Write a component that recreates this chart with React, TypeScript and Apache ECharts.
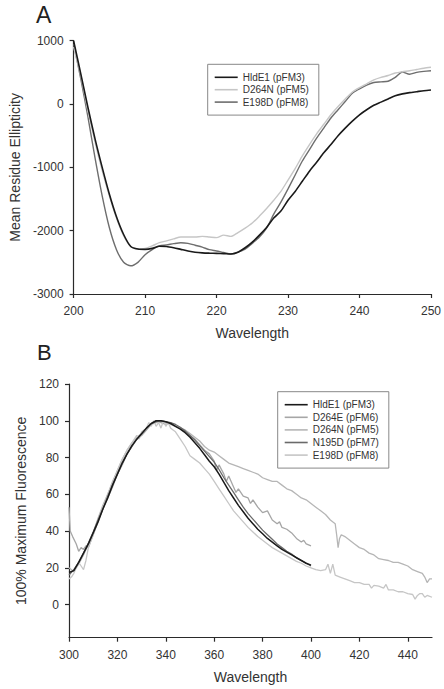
import React, { useEffect, useRef } from "react";
import * as echarts from "echarts";

// ---------- Panel A: circular dichroism ----------
const wavelengthA = [200, 201, 202, 203, 204, 205, 206, 207, 208, 209, 210, 211, 212, 213, 214, 215, 216, 217, 218, 219, 220, 221, 222, 223, 224, 225, 226, 227, 228, 229, 230, 231, 232, 233, 234, 235, 236, 237, 238, 239, 240, 241, 242, 243, 244, 245, 246, 247, 248, 249, 250];
const hldE1A = [1000, 480, -50, -550, -1000, -1420, -1780, -2060, -2250, -2290, -2295, -2280, -2245, -2250, -2270, -2295, -2320, -2340, -2350, -2355, -2358, -2362, -2368, -2340, -2270, -2180, -2070, -1950, -1800, -1690, -1520, -1380, -1220, -1060, -920, -770, -640, -500, -380, -270, -170, -90, -20, 30, 80, 130, 160, 180, 195, 210, 221];
const d264nA = [900, 450, -100, -600, -1050, -1450, -1800, -2080, -2250, -2290, -2280, -2240, -2190, -2160, -2130, -2100, -2100, -2100, -2090, -2100, -2110, -2070, -2090, -2030, -1960, -1880, -1770, -1650, -1520, -1380, -1200, -1020, -820, -640, -470, -320, -170, -40, 80, 190, 260, 320, 380, 420, 450, 490, 510, 525, 545, 565, 580];
const e198dA = [950, 400, -200, -850, -1450, -1950, -2300, -2500, -2555, -2500, -2380, -2300, -2240, -2225, -2205, -2190, -2200, -2230, -2260, -2300, -2320, -2345, -2368, -2340, -2290, -2200, -2100, -1960, -1740, -1550, -1340, -1120, -900, -720, -540, -380, -220, -90, 40, 170, 240, 300, 340, 350, 360, 420, 505, 470, 500, 515, 525];
const namesA = ["HldE1 (pFM3)", "D264N (pFM5)", "E198D (pFM8)"];
const colorsA = ["#1a1a1a", "#c6c6c6", "#6e6e6e"];
const yTicksA = [-3000, -2000, -1000, 0, 1000];
const xTicksA = [200, 210, 220, 230, 240, 250];

// ---------- Panel B: fluorescence (wavelength, % of maximum) ----------
const hldE1B = [[300, 17.5], [302, 18.5], [304, 23], [306, 28], [308, 33], [310, 39], [312, 45], [314, 52], [316, 58], [318, 65], [320, 71], [322, 77], [324, 82], [326, 86.5], [328, 90], [330, 93], [332, 96], [334, 98.5], [336, 100], [338, 100], [340, 99.5], [342, 98.5], [344, 97], [346, 95.5], [348, 93.5], [350, 91], [352, 88], [354, 85], [356, 81.5], [358, 78], [360, 75], [362, 71], [364, 66.5], [366, 62], [368, 58], [370, 54], [372, 50.5], [374, 47], [376, 44], [378, 41], [380, 38.5], [382, 36], [384, 34], [386, 32], [388, 30], [390, 28.5], [392, 27], [394, 25.5], [396, 24], [398, 22.5], [400, 21.5]];
const d264eB = [[300, 53], [300.5, 40], [301.5, 37], [303, 33], [304, 29], [305, 31], [306, 30], [307, 32], [308, 31], [310, 38], [312, 45], [314, 52], [316, 58], [318, 64], [320, 71], [322, 76], [324, 82], [326, 86], [328, 90], [330, 92], [332, 95], [334, 98], [336, 100], [338, 99], [340, 98], [342, 99], [344, 97], [346, 96], [348, 94], [350, 92], [352, 90], [354, 87], [356, 84], [358, 82], [360, 78], [361, 73], [362, 76], [364, 71], [365, 67], [366, 70], [368, 64], [369, 61], [370, 63], [372, 59], [374, 58], [375, 55], [376, 57], [378, 53], [380, 50], [382, 51], [384, 46], [386, 44], [387, 45], [388, 42], [390, 41], [392, 39], [394, 36], [396, 34], [397, 35], [398, 33], [400, 32]];
const d264nB = [[300, 20], [302, 18], [304, 22], [306, 27], [308, 33], [310, 39], [312, 47], [314, 54], [316, 60], [318, 67], [320, 73], [322, 79], [324, 84], [326, 88], [328, 91], [330, 93], [332, 96], [334, 98], [336, 99], [338, 100], [340, 99], [342, 98], [344, 97], [346, 96], [348, 95], [350, 93], [352, 91], [354, 89], [356, 86], [358, 84], [360, 83], [362, 81], [364, 79], [366, 77], [368, 76], [370, 75], [372, 74], [374, 73], [376, 72], [378, 71], [380, 69], [382, 68], [384, 67], [386, 67], [388, 65], [390, 63], [392, 62], [394, 60], [396, 58], [398, 57], [400, 55], [402, 53], [404, 51], [406, 49], [408, 46], [410, 44], [410.6, 38], [411.2, 31], [411.8, 36], [412.5, 38], [414, 37], [416, 35], [418, 33], [420, 31], [422, 30], [424, 28], [426, 27], [428, 25], [430, 24.5], [432, 24], [434, 23], [436, 23], [438, 22], [440, 21], [442, 19], [444, 18], [446, 17], [447, 15], [448, 12], [449, 14], [450, 14]];
const n195dB = [[300, 16], [302, 19], [304, 23], [306, 28], [308, 33.5], [310, 39.5], [312, 46], [314, 52], [316, 59], [318, 65], [320, 71], [322, 77], [324, 82], [326, 86], [328, 90], [330, 93], [332, 96], [334, 98.5], [336, 99.5], [338, 100], [340, 99.5], [342, 99], [344, 98], [346, 96.5], [348, 94.5], [350, 92], [352, 89.5], [354, 86.5], [356, 83.5], [358, 80.5], [360, 77.5], [362, 73.5], [364, 69], [366, 65], [368, 61], [370, 57], [372, 53], [374, 49.5], [376, 46.5], [378, 43.5], [380, 40.5], [382, 38], [384, 35.5], [386, 33], [388, 31], [390, 29], [392, 27.5], [394, 25.5], [396, 24], [398, 22.5], [400, 21]];
const e198dB = [[300, 14], [301, 15], [302, 17], [303, 20], [304, 23], [305, 21], [306, 19], [307, 24], [308, 31], [310, 38], [312, 46], [314, 53], [316, 60], [318, 66], [320, 73], [322, 79], [324, 84], [326, 88], [328, 92], [329, 90], [330, 94], [332, 96], [333, 99], [334, 97], [335, 100], [336, 97], [337, 99], [338, 96], [339, 100], [340, 97], [341, 99], [342, 96], [343, 95], [344, 94], [346, 90], [348, 86], [350, 81], [352, 79], [354, 77], [356, 74], [358, 71], [360, 67], [362, 63], [364, 59], [366, 55], [368, 51], [370, 48], [372, 45], [374, 42], [376, 39.5], [378, 37], [380, 35], [382, 33], [384, 31], [386, 29.5], [388, 28], [390, 26.5], [392, 25], [394, 23.5], [396, 22.5], [398, 21], [400, 20], [402, 19], [404, 18.5], [406, 19], [407, 22], [408, 17], [409, 22], [410, 16], [412, 15], [414, 14], [416, 13], [418, 12], [420, 12], [422, 11], [424, 11], [425, 9], [426, 10.5], [428, 10], [430, 9], [431, 11], [432, 8], [434, 8], [436, 7], [438, 7], [440, 6], [442, 5.5], [443, 3], [444, 5], [445, 6], [446, 6], [447, 4], [448, 5], [450, 4]];
const namesB = ["HldE1 (pFM3)", "D264E (pFM6)", "D264N (pFM5)", "N195D (pFM7)", "E198D (pFM8)"];
const colorsB = ["#1a1a1a", "#a6a6a6", "#b6b6b6", "#6a6a6a", "#c6c6c6"];
const yTicksB = [0, 20, 40, 60, 80, 100, 120];
const xTicksB = [300, 320, 340, 360, 380, 400, 420, 440];

const FONT = "'Liberation Sans', Arial, sans-serif";
const AXIS_COLOR = "#2a2a2a";

function axisStyle() {
  return {
    axisLine: { show: true, onZero: false, lineStyle: { color: AXIS_COLOR, width: 1.2 } },
    axisTick: { show: true, inside: false, length: 4, lineStyle: { color: AXIS_COLOR, width: 1.2 } },
    splitLine: { show: false },
    axisLabel: { color: "#333", fontSize: 12, fontFamily: FONT, margin: 10, formatter: (v: number) => String(v) },
    nameTextStyle: { color: "#333", fontSize: 14, fontFamily: FONT },
  };
}

export default function App() {
  const ref = useRef<HTMLDivElement>(null);
  useEffect(() => {
    if (!ref.current) return;
    const chart = echarts.init(ref.current, null, { renderer: "svg" });
    const seriesA = [hldE1A, d264nA, e198dA].map((vals, i) => ({
      type: "line",
      name: namesA[i],
      xAxisIndex: 0,
      yAxisIndex: 0,
      symbol: "none",
      smooth: 0.25,
      data: wavelengthA.map((w, k) => [w, vals[k]]),
      lineStyle: { color: colorsA[i], width: i === 0 ? 1.6 : 1.4 },
      itemStyle: { color: colorsA[i] },
      z: 3 - i,
    }));
    const seriesB = [hldE1B, d264eB, d264nB, n195dB, e198dB].map((vals, i) => ({
      type: "line",
      name: namesB[i],
      xAxisIndex: 1,
      yAxisIndex: 1,
      symbol: "none",
      data: vals,
      lineStyle: { color: colorsB[i], width: i === 0 ? 1.5 : 1.3 },
      itemStyle: { color: colorsB[i] },
      z: i === 0 ? 6 : i === 3 ? 5 : 2,
    }));
    const legendCommon = {
      orient: "vertical",
      backgroundColor: "#fff",
      borderColor: "#888",
      borderWidth: 1,
      icon: "rect",
      itemWidth: 23,
      itemHeight: 1.6,
      itemGap: 0.4,
      selectedMode: false,
      textStyle: { fontSize: 10, fontFamily: FONT, color: "#333", lineHeight: 12 },
    };
    chart.setOption({
      animation: false,
      grid: [
        { left: 69, top: 40.7, width: 363, height: 253.3 },
        { left: 69, top: 384, width: 363, height: 253.7 },
      ],
      xAxis: [
        {
          type: "value", gridIndex: 0, min: 200, max: 250, interval: 10,
          name: "Wavelength", nameLocation: "middle", nameGap: 32,
          ...axisStyle(),
          axisLabel: { ...axisStyle().axisLabel, margin: 11, customValues: xTicksA },
          axisTick: { ...axisStyle().axisTick, customValues: xTicksA },
        },
        {
          type: "value", gridIndex: 1, min: 300, max: 450, interval: 20,
          name: "Wavelength", nameLocation: "middle", nameGap: 32,
          ...axisStyle(),
          axisLabel: { ...axisStyle().axisLabel, margin: 11, customValues: xTicksB },
          axisTick: { ...axisStyle().axisTick, customValues: xTicksB },
        },
      ],
      yAxis: [
        {
          type: "value", gridIndex: 0, min: -3000, max: 1000, interval: 1000,
          name: "Mean Residue Ellipticity", nameLocation: "middle", nameGap: 51,
          ...axisStyle(),
          axisLabel: { ...axisStyle().axisLabel, customValues: yTicksA },
          axisTick: { ...axisStyle().axisTick, customValues: yTicksA },
        },
        {
          type: "value", gridIndex: 1, min: -18, max: 120,
          name: "100% Maximum Fluorescence", nameLocation: "middle", nameGap: 40,
          ...axisStyle(),
          axisLabel: { ...axisStyle().axisLabel, customValues: yTicksB },
          axisTick: { ...axisStyle().axisTick, customValues: yTicksB },
        },
      ],
      legend: [
        {
          ...legendCommon,
          left: 207.7, top: 64.3,
          padding: [7, 10, 7, 7],
          data: namesA.map((n, i) => ({ name: n, itemStyle: { color: colorsA[i] } })),
        },
        {
          ...legendCommon,
          left: 277.7, top: 391.7,
          padding: [7, 10, 7, 7],
          itemGap: 0.6,
          data: namesB.map((n, i) => ({ name: n, itemStyle: { color: colorsB[i] } })),
        },
      ],
      graphic: [
        { type: "text", left: 36, top: 3, style: { text: "A", fontSize: 23, fontFamily: FONT, fill: "#222" } },
        { type: "text", left: 37, top: 341, style: { text: "B", fontSize: 22, fontFamily: FONT, fill: "#222" } },
      ],
      series: [...seriesA, ...seriesB],
    });
    return () => chart.dispose();
  }, []);
  return (
    <div
      ref={ref}
      style={{ position: "absolute", left: 0, top: 0, width: 444, height: 689, background: "#fff" }}
    />
  );
}
